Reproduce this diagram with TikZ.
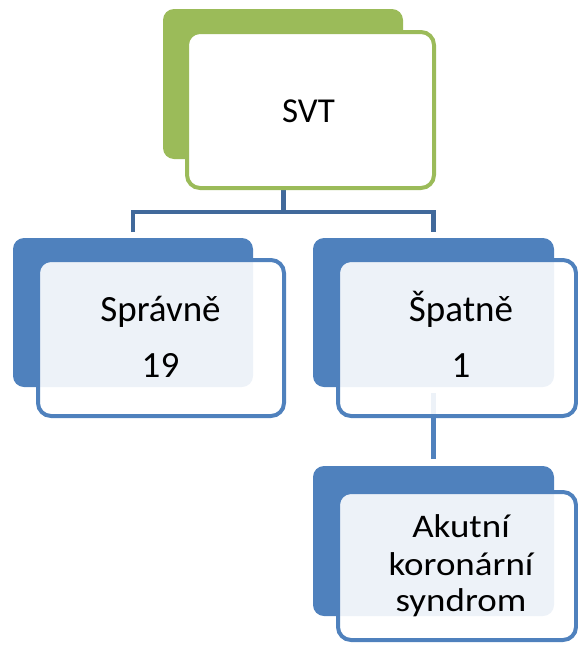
\documentclass[tikz,border=0pt]{standalone}
\usepackage{fontspec}
\setmainfont{Carlito}
\definecolor{leafgreen}{HTML}{9BBB59}
\definecolor{boxblue}{HTML}{4F81BD}
\definecolor{linkblue}{RGB}{65,105,155}
\begin{document}
\begin{tikzpicture}[x=1pt,y=-1pt,
  backbox/.style={draw=none, fill=#1, rounded corners=11pt, inner sep=0pt, outer sep=0pt},
  frontbox/.style={draw=#1, line width=4pt, fill=white, rounded corners=13pt, inner sep=0pt, outer sep=0pt},
  link/.style={draw=linkblue, line width=4.5pt, line join=miter},
  sublink/.style={draw=boxblue, line width=4.5pt},
  txt/.style={font=\fontsize{37}{44}\selectfont, inner sep=0pt, anchor=base},
  smalltxt/.style={font=\fontsize{33}{40}\selectfont, inner sep=0pt, anchor=base}]
\useasboundingbox (0,0) rectangle (578,646);

% back tabs
\node[backbox=leafgreen, minimum width=240pt, minimum height=150pt] (svtB) at (283,84) {};
\node[backbox=boxblue, minimum width=240pt, minimum height=149pt] (okB) at (133,312.5) {};
\node[backbox=boxblue, minimum width=241pt, minimum height=149pt] (badB) at (433.5,312.5) {};
\node[backbox=boxblue, minimum width=241pt, minimum height=150pt] (acsB) at (433.5,541) {};

% connectors
\coordinate (j) at (283.5,212);
\draw[link] (j |- 188,188) -- (j);
\draw[link] ([yshift=6pt]okB.north) -- (okB.north |- j) -- (badB.north |- j) -- ([yshift=6pt]badB.north);
\draw[sublink] ([yshift=-6pt]badB.south) -- ([yshift=7pt]acsB.north);

% front cards
\node[frontbox=leafgreen, minimum width=247pt, minimum height=156pt] (svt) at (310.5,110) {};
\node[frontbox=boxblue, fill opacity=0.9, minimum width=246pt, minimum height=156pt] (ok) at (161,338) {};
\node[frontbox=boxblue, fill opacity=0.9, minimum width=238pt, minimum height=156pt] (bad) at (457,338) {};
\node[frontbox=boxblue, fill opacity=0.9, minimum width=238pt, minimum height=148pt] (acs) at (457,566) {};

% labels
\node[txt, font=\fontsize{35}{44}\selectfont] (svtT) at (308.5,122) {SVT};
\node[txt] (okT) at (160.5,321) {Správně};
\node[txt] (okN) at (160.5,377) {19};
\node[txt] (badT) at (461,321) {Špatně};
\node[txt] (badN) at (461,377) {1};
\node[smalltxt] (acs1) at (461,537) {\scalebox{1.12}[1]{Akutní}};
\node[smalltxt] (acs2) at (461,575) {\scalebox{1.12}[1]{koronární}};
\node[smalltxt] (acs3) at (461,611) {\scalebox{1.12}[1]{syndrom}};
\end{tikzpicture}
\end{document}
